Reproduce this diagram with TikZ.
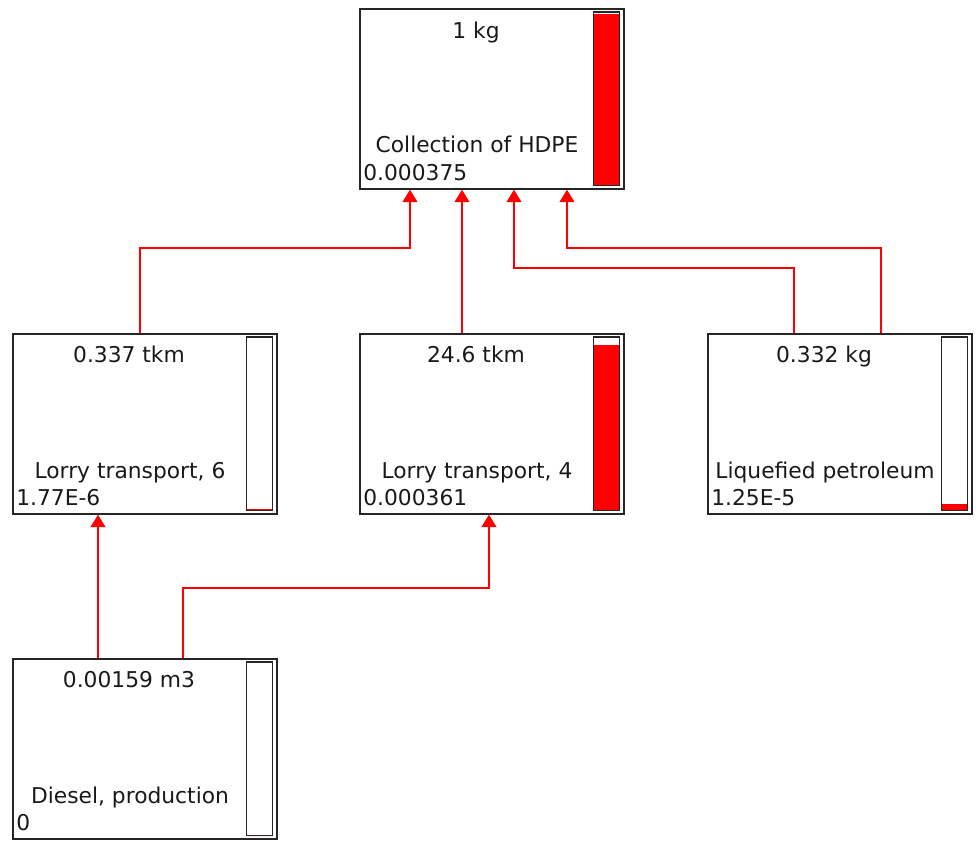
\documentclass[tikz,border=0pt]{standalone}
\usepackage{fontspec}
\setmainfont{DejaVu Sans}
\usetikzlibrary{calc,arrows.meta}

% gauge at the right side of a process box: node name, filled fraction
\newcommand{\gauge}[2]{%
  \fill[red] ($(#1.south east)+(-31,-4)$) rectangle ($(#1.south east)+(-5,-4-#2*172)$);
  \draw[black!85, line width=0.8pt] ($(#1.north east)+(-31,4)$) rectangle ($(#1.south east)+(-5,-4)$);
}

\begin{document}
\begin{tikzpicture}[x=0.02cm, y=-0.02cm,
  box/.style = {draw=black!85, line width=1pt, minimum width=5.28cm, minimum height=3.6cm, anchor=north west, inner sep=0pt},
  txt/.style = {font=\fontsize{12.4}{14}\selectfont, text=black!90, inner sep=0pt, anchor=base},
  val/.style = {txt, anchor=base west},
  flow/.style = {draw=red, line width=0.75pt, -{Triangle[width=0.3cm,length=0.25cm]}}]
\useasboundingbox (0,0) rectangle (978,843);

% process boxes
\node[box] (hdpe) at (359,8) {};
\node[box] (lorrysix) at (12,333) {};
\node[box] (lorryfour) at (359,333) {};
\node[box] (lpg) at (707,333) {};
\node[box] (diesel) at (12,658) {};

\gauge{hdpe}{1}
\gauge{lorrysix}{0.012}
\gauge{lorryfour}{0.965}
\gauge{lpg}{0.04}
\gauge{diesel}{0}

% texts
\node[txt] (hdpeamt) at ($(hdpe.north west)+(117,30)$) {1 kg};
\node[txt] (hdpename) at ($(hdpe.north west)+(118,144)$) {Collection of HDPE};
\node[val] (hdpeval) at ($(hdpe.north west)+(4,172)$) {0.000375};

\node[txt] (lorrysixamt) at ($(lorrysix.north west)+(117,29)$) {0.337 tkm};
\node[txt] (lorrysixname) at ($(lorrysix.north west)+(118,145)$) {Lorry transport, 6};
\node[val] (lorrysixval) at ($(lorrysix.north west)+(4,172)$) {1.77E-6};

\node[txt] (lorryfouramt) at ($(lorryfour.north west)+(117,29)$) {24.6 tkm};
\node[txt] (lorryfourname) at ($(lorryfour.north west)+(118,145)$) {Lorry transport, 4};
\node[val] (lorryfourval) at ($(lorryfour.north west)+(4,172)$) {0.000361};

\node[txt] (lpgamt) at ($(lpg.north west)+(117,29)$) {0.332 kg};
\node[txt] (lpgname) at ($(lpg.north west)+(118,145)$) {Liquefied petroleum};
\node[val] (lpgval) at ($(lpg.north west)+(4,172)$) {1.25E-5};

\node[txt] (dieselamt) at ($(diesel.north west)+(117,29)$) {0.00159 m3};
\node[txt] (dieselname) at ($(diesel.north west)+(118,145)$) {Diesel, production};
\node[val] (dieselval) at ($(diesel.north west)+(4,172)$) {0};

% ports
\coordinate (in1) at ($(hdpe.south west)+(51,0)$);
\coordinate (in2) at ($(hdpe.south west)+(103,0)$);
\coordinate (in3) at ($(hdpe.south west)+(155,0)$);
\coordinate (in4) at ($(hdpe.south west)+(208,0)$);
\coordinate (lorrysixout) at ($(lorrysix.north west)+(128,0)$);
\coordinate (lorrysixin) at ($(lorrysix.south west)+(86,0)$);
\coordinate (lorryfourout) at ($(lorryfour.north west)+(103,0)$);
\coordinate (lorryfourin) at ($(lorryfour.south west)+(130,0)$);
\coordinate (lpgout1) at ($(lpg.north west)+(87,0)$);
\coordinate (lpgout2) at ($(lpg.north west)+(174,0)$);
\coordinate (dieselout1) at ($(diesel.north west)+(86,0)$);
\coordinate (dieselout2) at ($(diesel.north west)+(171,0)$);

% flows
\draw[flow] (lorrysixout) -- ++(0,-85) -| (in1);
\draw[flow] (lorryfourout) -- (in2);
\draw[flow] (lpgout1) -- ++(0,-65) -| (in3);
\draw[flow] (lpgout2) -- ++(0,-85) -| (in4);
\draw[flow] (dieselout1) -- (lorrysixin);
\draw[flow] (dieselout2) -- ++(0,-70) -| (lorryfourin);
\end{tikzpicture}
\end{document}
